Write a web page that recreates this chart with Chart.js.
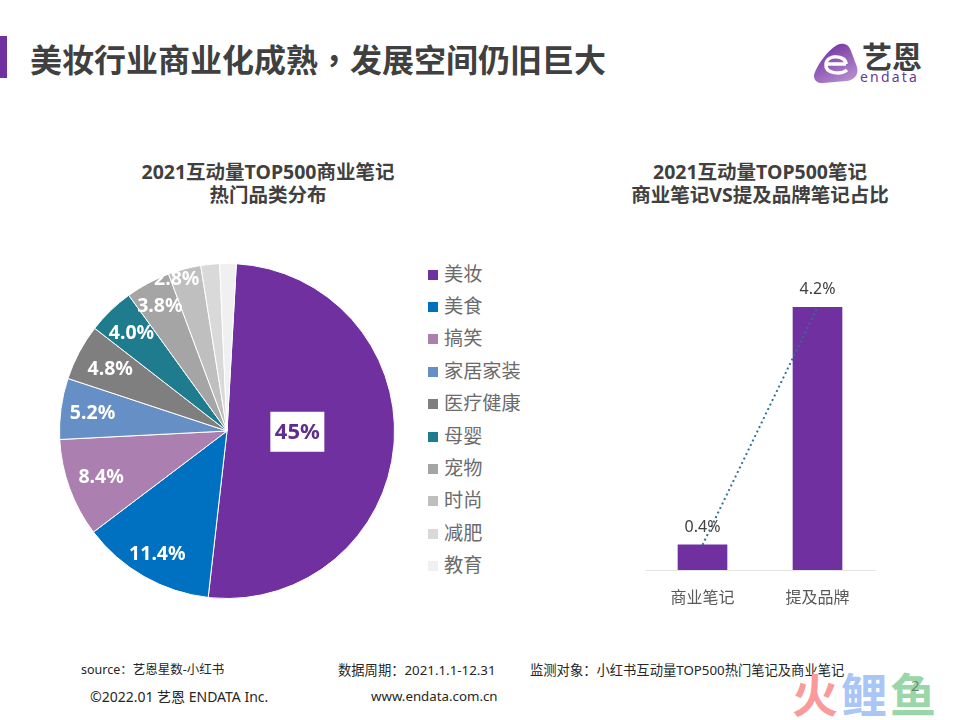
<!DOCTYPE html>
<html>
<head>
<meta charset="utf-8">
<script src="https://cdn.jsdelivr.net/npm/chart.js@4"></script>
<style>
html, body { margin: 0; padding: 0; background: #fff; }
#page { position: relative; width: 960px; height: 720px; overflow: hidden; font-family: "Noto Sans", "Noto Sans CJK SC", sans-serif; color: #404040; }
.t { position: absolute; white-space: nowrap; line-height: 1; }
.c { transform: translateX(-50%); }
canvas { position: absolute; }
.chart-title { font-size: 19.5px; font-weight: 700; color: #404040; }
.foot { font-size: 13.3px; color: #262626; }
#legend div { position: absolute; left: 428px; font-size: 19.2px; color: #6b6b6b; line-height: 1; white-space: nowrap; }
#legend i { position: absolute; left: 0; top: 4px; width: 10px; height: 10px; }
#legend span { position: absolute; left: 16px; top: -2px; }
.wm { font-size: 46px; font-weight: 700; font-family: "Noto Sans CJK SC", sans-serif; }
</style>
</head>
<body>
<div id="page">
  <div style="position:absolute;left:0;top:36px;width:7px;height:42px;background:#7030a0"></div>
  <div class="t" style="left:30px;top:42px;font-size:32px;font-weight:700;color:#404040;font-family:'Noto Sans CJK SC'">美妆行业商业化成熟<span style="font-family:'Noto Sans CJK TC'">，</span>发展空间仍旧巨大</div>

  <svg style="position:absolute;left:813px;top:43px" width="45" height="41" viewBox="0 0 45 41">
    <defs><linearGradient id="logoFill" x1="0.2" y1="0" x2="0.8" y2="1"><stop offset="0" stop-color="#6f2f9f"/><stop offset="1" stop-color="#b98fd0"/></linearGradient></defs>
    <path d="M24 2 C30 -1 36 1 38 8 L44 24 C46 32 41 37 33 38 L10 40 C3 41 -1 35 2 29 C6 20 14 8 24 2 Z" fill="url(#logoFill)"/>
    <path d="M33 21 H13 M33 21 C33 12 14 11 13 21 C12 31 28 32 34 27" fill="none" stroke="#fff" stroke-width="3.5"/>
  </svg>
  <div class="t" style="left:862px;top:40px;font-size:30px;font-weight:700;color:#404040;font-family:'Noto Sans CJK SC'">艺恩</div>
  <div class="t" style="left:860px;top:70px;font-size:14px;color:#6a3a96;letter-spacing:2.2px">endata</div>

  <div class="t c chart-title" style="left:268px;top:162px">2021互动量TOP500商业笔记</div>
  <div class="t c chart-title" style="left:268px;top:185px">热门品类分布</div>
  <div class="t c chart-title" style="left:760px;top:162px">2021互动量TOP500笔记</div>
  <div class="t c chart-title" style="left:760px;top:185px">商业笔记VS提及品牌笔记占比</div>

  <canvas id="pieChart" style="left:57px;top:261px;width:340px;height:340px"></canvas>
  <div id="legend"></div>
  <canvas id="barChart" style="left:640px;top:270px;width:240px;height:340px"></canvas>

  <div class="t foot" style="left:81px;top:664px;font-size:12.5px">source：艺恩星数-小红书</div>
  <div class="t foot" style="left:338px;top:664px">数据周期：2021.1.1-12.31</div>
  <div class="t foot" style="left:530px;top:664px">监测对象：小红书互动量TOP500热门笔记及商业笔记</div>
  <div class="t foot" style="left:90px;top:690px;font-size:14px">©2022.01 艺恩 ENDATA Inc.</div>
  <div class="t foot" style="left:371px;top:690px">www.endata.com.cn</div>

  <div class="t wm" style="left:792px;top:669px;color:#fb9a9a">火</div>
  <div class="t wm" style="left:841px;top:669px;color:#a9c6f7">鲤</div>
  <div class="t wm" style="left:890px;top:669px;color:#9bd6aa">鱼</div>
  <div class="t" style="left:911px;top:678px;font-size:15px;color:#6b8a72">2</div>
</div>

<script>
// pie data
var categories = ["美妆", "美食", "搞笑", "家居家装", "医疗健康", "母婴", "宠物", "时尚", "减肥", "教育"];
var sliceValues = [45, 11.4, 8.4, 5.2, 4.8, 4.0, 3.8, 2.8, 1.6, 1.4];
var sliceLabels = ["45%", "11.4%", "8.4%", "5.2%", "4.8%", "4.0%", "3.8%", "2.8%", "", ""];
var sliceColors = ["#7030a0", "#0070c0", "#ab7fb0", "#668fc6", "#7f7f7f", "#1f7b8e", "#a5a5a5", "#bfbfbf", "#d9d9d9", "#f0f0f0"];
// label distance from the centre, as part of the radius
var labelRadius = [0.42, 0.84, 0.8, 0.81, 0.79, 0.82, 0.85, 0.96, 0, 0];
var labelTurn = [-4.2, 0, 0, 0, 0, 0, 0, -3.5, 0, 0];

// bar data
var barCategories = ["商业笔记", "提及品牌"];
var barValues = [0.4, 4.2];
var barLabels = ["0.4%", "4.2%"];

var fontStack = '"Noto Sans", "Noto Sans CJK SC", sans-serif';

// legend
var legendEl = document.getElementById('legend');
categories.forEach(function(name, i) {
    var row = document.createElement('div');
    row.style.top = (265.5 + i * 32.4) + 'px';
    row.innerHTML = '<i style="background:' + sliceColors[i] + '"></i><span>' + name + '</span>';
    legendEl.appendChild(row);
});

var pieLabelPlugin = {
    id: 'pieLabels',
    afterDatasetsDraw: function(chart) {
        var ctx = chart.ctx;
        chart.getDatasetMeta(0).data.forEach(function(arc, i) {
            if (!sliceLabels[i]) return;
            var a = (arc.startAngle + arc.endAngle) / 2 + labelTurn[i] * Math.PI / 180;
            var x = arc.x + Math.cos(a) * arc.outerRadius * labelRadius[i];
            var y = arc.y + Math.sin(a) * arc.outerRadius * labelRadius[i];
            ctx.save();
            ctx.textAlign = 'center';
            ctx.textBaseline = 'middle';
            if (i == 0) {
                ctx.fillStyle = '#fff';
                ctx.fillRect(x - 27, y - 20, 54, 40);
                ctx.fillStyle = '#5f2d8e';
                ctx.font = '700 22px ' + fontStack;
            } else {
                ctx.fillStyle = '#fff';
                ctx.font = '700 19.5px ' + fontStack;
            }
            ctx.fillText(sliceLabels[i], x, y + 1);
            ctx.restore();
        });
    }
};

new Chart(document.getElementById('pieChart'), {
    type: 'pie',
    data: {
        labels: categories,
        datasets: [{
            data: sliceValues,
            backgroundColor: sliceColors,
            borderColor: '#fff',
            borderWidth: 1
        }]
    },
    options: {
        responsive: false,
        animation: false,
        rotation: 3.2,
        layout: { padding: 2 },
        plugins: {
            legend: { display: false },
            tooltip: { enabled: false }
        }
    },
    plugins: [pieLabelPlugin]
});

var barLabelPlugin = {
    id: 'barLabels',
    afterDatasetsDraw: function(chart) {
        var ctx = chart.ctx;
        chart.getDatasetMeta(0).data.forEach(function(bar, i) {
            ctx.save();
            ctx.fillStyle = '#404040';
            ctx.font = '16px ' + fontStack;
            ctx.textAlign = 'center';
            ctx.textBaseline = 'middle';
            ctx.fillText(barLabels[i], bar.x, bar.y - 18);
            ctx.restore();
        });
    }
};

new Chart(document.getElementById('barChart'), {
    type: 'bar',
    data: {
        labels: barCategories,
        datasets: [{
            type: 'bar',
            data: barValues,
            backgroundColor: '#7030a0',
            barThickness: 49,
            order: 2
        }, {
            type: 'line',
            data: barValues,
            borderColor: '#2f6f92',
            borderWidth: 2,
            borderDash: [2, 3],
            pointRadius: 0,
            order: 1
        }]
    },
    options: {
        responsive: false,
        animation: false,
        layout: { padding: { top: 37, left: 5, right: 5, bottom: 0 } },
        scales: {
            x: {
                afterFit: function(scale) { scale.height = 40; },
                grid: { display: false },
                border: { color: '#e6e6e6' },
                ticks: { color: '#595959', font: { size: 16, family: fontStack }, padding: 11 }
            },
            y: { display: false, min: 0, max: 4.2 }
        },
        plugins: {
            legend: { display: false },
            tooltip: { enabled: false }
        }
    },
    plugins: [barLabelPlugin]
});
</script>
</body>
</html>
